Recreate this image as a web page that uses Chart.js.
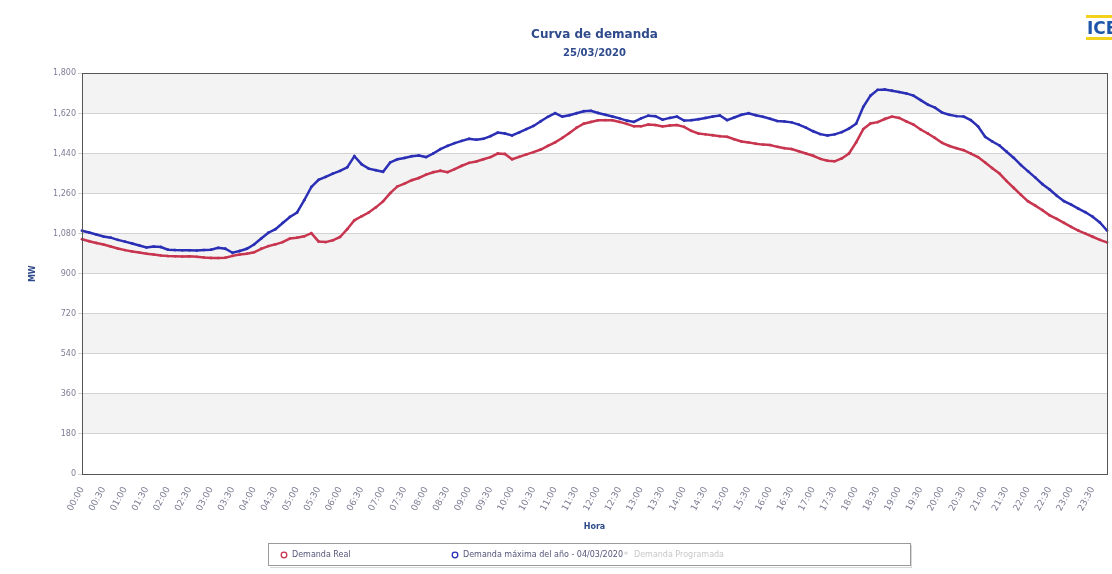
<!DOCTYPE html>
<html><head><meta charset="utf-8">
<script src="https://cdn.jsdelivr.net/npm/chart.js@4/dist/chart.umd.min.js"></script>
<style>html,body{margin:0;padding:0;background:#fff;}#wrap{width:1112px;height:574px;position:relative;}</style>
</head><body><div id="wrap"><canvas id="c" width="1112" height="574"></canvas></div>
<script>
// Category labels: every 10 minutes from 00:00 to 23:50
const horas = [];
for (let h = 0; h < 24; h++) for (let m = 0; m < 60; m += 10) horas.push(String(h).padStart(2,'0') + ':' + String(m).padStart(2,'0'));

const demandaReal = [
1055,1046,1038,1031,1022,1013,1006,1000,995,990,
986,982,979,978,977,978,976,973,971,970,
972,980,986,990,996,1012,1024,1032,1042,1058,
1062,1068,1082,1045,1042,1050,1065,1100,1140,1158,
1175,1198,1225,1262,1292,1305,1320,1330,1345,1356,
1363,1356,1370,1385,1398,1404,1414,1424,1440,1438,
1414,1425,1436,1446,1458,1474,1490,1510,1532,1556,
1574,1582,1589,1590,1589,1582,1573,1562,1562,1570,
1568,1562,1566,1568,1560,1542,1530,1526,1522,1518,
1515,1504,1494,1490,1484,1480,1478,1470,1464,1460,
1450,1440,1430,1416,1408,1405,1418,1440,1490,1550,
1575,1581,1595,1606,1600,1584,1570,1548,1530,1510,
1488,1474,1464,1455,1440,1424,1400,1374,1350,1316,
1285,1254,1225,1206,1185,1162,1146,1128,1110,1094,
1080,1066,1052,1041];

const demandaMaxima = [
1093,1085,1076,1067,1062,1052,1044,1036,1027,1018,
1022,1020,1008,1006,1005,1005,1004,1006,1008,1016,
1012,994,1002,1012,1031,1058,1084,1100,1128,1155,
1175,1230,1290,1322,1335,1350,1362,1378,1428,1392,
1372,1365,1358,1400,1414,1420,1428,1431,1424,1440,
1460,1474,1487,1497,1506,1502,1506,1518,1534,1530,
1521,1535,1550,1564,1585,1605,1621,1606,1612,1621,
1630,1632,1622,1614,1606,1598,1588,1582,1598,1610,
1608,1592,1600,1606,1588,1590,1594,1600,1606,1611,
1590,1602,1614,1621,1612,1605,1596,1586,1584,1580,
1570,1556,1540,1527,1521,1526,1536,1552,1574,1650,
1700,1726,1728,1722,1716,1710,1700,1680,1660,1646,
1624,1614,1608,1606,1590,1562,1515,1494,1476,1448,
1420,1388,1360,1332,1302,1278,1250,1226,1210,1192,
1176,1156,1130,1094];

const legendLabels = ['Demanda Real', 'Demanda máxima del año - 04/03/2020', 'Demanda Programada'];
const legendColors = ['#c8354f', '#2b2fb5', '#c8c8c8'];
const titulo = 'Curva de demanda';
const fecha = '25/03/2020';

const FONT = "'DejaVu Sans', Verdana, sans-serif";
const TITLE_COLOR = '#2f4b8c';
const TICK_COLOR = '#7d7d95';

const bandsPlugin = {
  id: 'bands',
  beforeDraw(chart) {
    const {ctx, chartArea: a, scales: {y}} = chart;
    ctx.save();
    ctx.fillStyle = '#ffffff';
    ctx.fillRect(0, 0, chart.width, chart.height);
    for (let k = 0; k < 10; k++) {
      if (k % 2 === 1) {
        const yTop = y.getPixelForValue(180 * (k + 1));
        const yBot = y.getPixelForValue(180 * k);
        ctx.fillStyle = '#f3f3f3';
        ctx.fillRect(a.left, yTop, a.right - a.left, yBot - yTop);
      }
    }
    ctx.restore();
  }
};

const framePlugin = {
  id: 'frame',
  afterDraw(chart) {
    const {ctx, chartArea: a} = chart;
    ctx.save();
    ctx.strokeStyle = '#555555';
    ctx.lineWidth = 1;
    ctx.strokeRect(Math.round(a.left) + 0.5, Math.round(a.top) + 0.5, Math.round(a.right - a.left), Math.round(a.bottom - a.top));
    ctx.restore();
  }
};

const legendPlugin = {
  id: 'customLegend',
  afterDraw(chart) {
    const ctx = chart.ctx;
    ctx.save();
    ctx.fillStyle = '#ffffff';
    ctx.fillRect(268, 543, 642, 22);
    ctx.strokeStyle = '#9a9a9a';
    ctx.lineWidth = 1;
    ctx.strokeRect(268.5, 543.5, 642, 22);
    ctx.strokeStyle = '#d8d8d8';
    ctx.beginPath(); ctx.moveTo(270, 567.5); ctx.lineTo(912, 567.5); ctx.moveTo(911.5, 545); ctx.lineTo(911.5, 567); ctx.stroke();
    ctx.font = '8px ' + FONT;
    ctx.textBaseline = 'middle';
    const yMid = 555;
    const xs = [284, 455, 626];
    for (let i = 0; i < legendLabels.length; i++) {
      if (i < 2) {
        ctx.beginPath();
        ctx.arc(xs[i], yMid, 2.8, 0, Math.PI * 2);
        ctx.strokeStyle = legendColors[i];
        ctx.lineWidth = 1.3;
        ctx.stroke();
        ctx.fillStyle = '#55557a';
      } else {
        ctx.fillStyle = legendColors[i];
        ctx.font = '9px ' + FONT;
        ctx.textAlign = 'center';
        ctx.fillText('*', xs[i], yMid + 1);
        ctx.textAlign = 'left';
        ctx.font = '8px ' + FONT;
        ctx.fillStyle = '#c8c8c8';
      }
      ctx.fillText(legendLabels[i], xs[i] + 8, yMid);
    }
    // logo
    ctx.fillStyle = '#f2d21b';
    ctx.fillRect(1086, 15, 26, 3);
    ctx.fillRect(1086, 37, 26, 3);
    ctx.fillStyle = '#1d56a8';
    ctx.font = 'bold 17px ' + FONT;
    ctx.textBaseline = 'alphabetic';
    ctx.fillText('ICE', 1087, 34);
    ctx.restore();
  }
};

new Chart(document.getElementById('c'), {
  type: 'line',
  data: {
    labels: horas,
    datasets: [
      { label: legendLabels[0], data: demandaReal, borderColor: '#c8354f', backgroundColor: '#c8354f',
        borderWidth: 2.5, pointRadius: 1.4, pointBorderWidth: 0, tension: 0 },
      { label: legendLabels[1], data: demandaMaxima, borderColor: '#2b2fb5', backgroundColor: '#2b2fb5',
        borderWidth: 2.5, pointRadius: 1.4, pointBorderWidth: 0, tension: 0 }
    ]
  },
  options: {
    responsive: false,
    animation: false,
    devicePixelRatio: 1,
    layout: { padding: { left: 0, right: 5, top: 0, bottom: 36 } },
    plugins: {
      legend: { display: false },
      tooltip: { enabled: false },
      title: { display: true, text: titulo, fullSize: false, color: TITLE_COLOR,
        font: { family: FONT, size: 12, weight: 'bold' }, padding: { top: 28, bottom: 0 } },
      subtitle: { display: true, text: fecha, fullSize: false, color: TITLE_COLOR,
        font: { family: FONT, size: 10, weight: 'bold' }, padding: { top: 5, bottom: 14 } }
    },
    scales: {
      x: {
        offset: false,
        grid: { display: false },
        border: { display: true, color: '#555555' },
        ticks: { autoSkip: false, maxRotation: 62, minRotation: 62, padding: 3, color: TICK_COLOR,
          font: { family: FONT, size: 9 },
          callback: (v, i) => (i % 3 === 0 ? horas[i] : null) },
        title: { display: true, text: 'Hora', color: TITLE_COLOR, font: { family: FONT, size: 8, weight: 'bold' },
          padding: { top: 0, bottom: 6 } },
        afterFit: (s) => { s.height = 64; }
      },
      y: {
        min: 0, max: 1800,
        grid: { color: '#d2d2d2', tickLength: 4 },
        border: { display: true, color: '#555555' },
        ticks: { stepSize: 180, padding: 2, color: TICK_COLOR, font: { family: FONT, size: 8 },
          callback: (v) => v.toLocaleString('en-US') },
        title: { display: true, text: 'MW', color: TITLE_COLOR, font: { family: FONT, size: 8, weight: 'bold' },
          padding: { top: 28, bottom: 0 } },
        afterFit: (s) => { s.width = 82; }
      }
    }
  },
  plugins: [bandsPlugin, framePlugin, legendPlugin]
});
</script>
</body></html>
